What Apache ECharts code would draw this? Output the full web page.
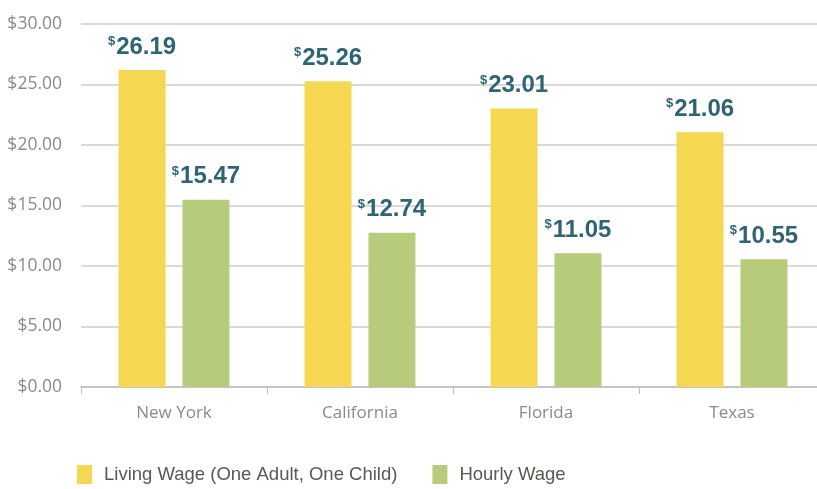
<!DOCTYPE html>
<html>
<head>
<meta charset="utf-8">
<script src="https://cdn.jsdelivr.net/npm/echarts@6/dist/echarts.min.js"></script>
<style>
  html, body { margin: 0; padding: 0; background: #fff; }
  #main { width: 817px; height: 489px; }
</style>
</head>
<body>
<div id="main"></div>
<script>
var states = ['New York', 'California', 'Florida', 'Texas'];
var livingWage = [26.19, 25.26, 23.01, 21.06];
var hourlyWage = [15.47, 12.74, 11.05, 10.55];
var seriesNames = ['Living Wage (One Adult, One Child)', 'Hourly Wage'];

var myChart = echarts.init(document.getElementById('main'));

// value label: small superscript $ + big bold number
var barLabel = {
    show: true,
    position: 'top',
    distance: 11,
    formatter: function (p) {
        return '{s|$}{v|' + p.value.toFixed(2) + '}';
    },
    rich: {
        s: {
            fontFamily: 'Liberation Sans',
            fontWeight: 'bold',
            fontSize: 13,
            color: '#2f6475',
            verticalAlign: 'top',
            padding: [0, 1, 9, 0]
        },
        v: {
            fontFamily: 'Liberation Sans',
            fontWeight: 'bold',
            fontSize: 24,
            color: '#2f6475'
        }
    }
};

var option = {
    animation: false,
    color: ['#f5d752', '#b7cc7a'],
    grid: {
        left: 81,
        width: 744,
        top: 24,
        bottom: 102,
        outerBoundsMode: 'none'
    },
    legend: {
        data: seriesNames,
        top: 465,
        left: 77,
        padding: 0,
        itemWidth: 15,
        itemHeight: 19,
        itemGap: 35,
        icon: 'rect',
        textStyle: {
            fontFamily: 'Liberation Sans',
            fontSize: 18.5,
            color: '#5b5753',
            padding: [0, 0, 0, 7]
        }
    },
    xAxis: {
        type: 'category',
        data: states,
        axisLine: { lineStyle: { color: '#bdbdbd', width: 1.5 } },
        axisTick: { show: true, length: 7, lineStyle: { color: '#bdbdbd' } },
        axisLabel: {
            fontFamily: 'Open Sans',
            fontSize: 17,
            color: '#8a8a8a',
            margin: 18
        }
    },
    yAxis: {
        type: 'value',
        min: 0,
        max: 30,
        interval: 5,
        axisLine: { show: false },
        axisTick: { show: false },
        axisLabel: {
            fontFamily: 'Open Sans',
            fontSize: 17.5,
            color: '#8a8a8a',
            margin: 19,
            formatter: function (v) { return '$' + v.toFixed(2); }
        },
        splitLine: { lineStyle: { color: '#cccccc', width: 1.5 } }
    },
    series: [
        {
            name: seriesNames[0],
            type: 'bar',
            barWidth: 47,
            barGap: '36%',
            label: barLabel,
            data: livingWage
        },
        {
            name: seriesNames[1],
            type: 'bar',
            barWidth: 47,
            barGap: '36%',
            label: barLabel,
            data: hourlyWage
        }
    ]
};

myChart.setOption(option);
</script>
</body>
</html>
